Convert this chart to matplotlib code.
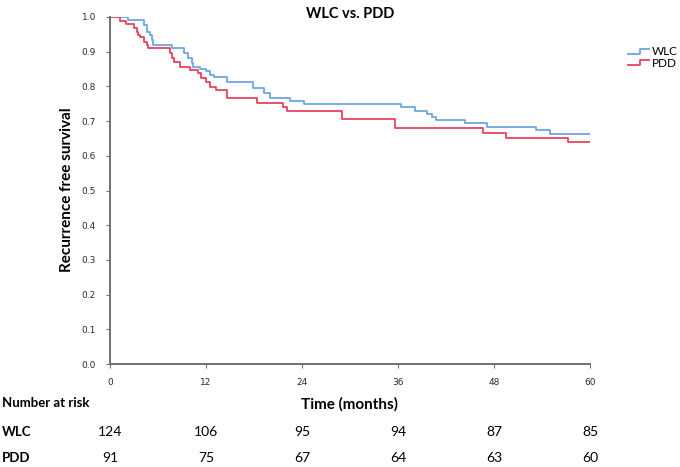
import matplotlib
matplotlib.use("Agg")
import matplotlib.pyplot as plt
from matplotlib.legend_handler import HandlerBase
from matplotlib.lines import Line2D

# ---- data ----
wlc_t = [0, 2.25, 4.2, 4.6, 5.0, 5.2, 5.4, 7.8, 9.2, 9.8, 10.2, 10.4, 11.2, 12.0, 12.5, 13.0,
         14.6, 17.9, 19.2, 20.0, 22.5, 24.2, 36.4, 38.1, 39.6, 40.2, 40.8, 44.4, 47.1, 53.3, 55.0, 60]
wlc_s = [1.0, 0.991, 0.977, 0.958, 0.949, 0.934, 0.920, 0.911, 0.896, 0.881, 0.867, 0.857, 0.851,
         0.843, 0.833, 0.826, 0.814, 0.795, 0.781, 0.766, 0.757, 0.748, 0.740, 0.730, 0.721,
         0.713, 0.702, 0.694, 0.683, 0.673, 0.662, 0.662]

pdd_t = [0, 1.2, 2.0, 3.0, 3.35, 3.55, 3.75, 4.2, 4.6, 4.8, 7.45, 7.7, 8.0, 8.8, 10.0, 11.0,
         11.4, 12.0, 12.5, 13.2, 14.6, 18.4, 21.6, 22.1, 29.0, 35.6, 46.6, 49.5, 57.3, 60]
pdd_s = [1.0, 0.989, 0.980, 0.968, 0.958, 0.949, 0.941, 0.929, 0.919, 0.910, 0.895, 0.881, 0.871,
         0.857, 0.848, 0.838, 0.824, 0.814, 0.798, 0.790, 0.766, 0.752, 0.742, 0.729, 0.706,
         0.680, 0.667, 0.652, 0.640, 0.640]

x_ticks = [0, 12, 24, 36, 48, 60]
y_ticks = [0.0, 0.1, 0.2, 0.3, 0.4, 0.5, 0.6, 0.7, 0.8, 0.9, 1.0]
groups = ["WLC", "PDD"]
at_risk_wlc = [124, 106, 95, 94, 87, 85]
at_risk_pdd = [91, 75, 67, 64, 63, 60]

BLUE = "#6fa6de"
RED = "#e8425e"
GRAY = "#707070"
FONT = "Lato"
W, H = 680, 467

fig = plt.figure(figsize=(6.8, 4.67), dpi=100)
ax = fig.add_axes([110/W, 1-364/H, 480/W, 347/H])

ax.step(wlc_t, wlc_s, where="post", color=BLUE, lw=1.3, label=groups[0])
ax.step(pdd_t, pdd_s, where="post", color=RED, lw=1.3, label=groups[1])

ax.set_xlim(0, 60)
ax.set_ylim(0, 1.0)
ax.set_xticks(x_ticks)
ax.set_xticklabels([str(v) for v in x_ticks])
ax.set_yticks(y_ticks)
ax.set_yticklabels([f"{v:.1f}" for v in y_ticks])
for s in ["top", "right"]:
    ax.spines[s].set_visible(False)
for s in ["left", "bottom"]:
    ax.spines[s].set_color(GRAY)
    ax.spines[s].set_linewidth(1.4)
ax.tick_params(axis="both", colors=GRAY, length=3, width=0.8, labelsize=6.5,
               labelcolor="#2a2a2a", pad=7)

fig.text(67/W, 1-190/H, "Recurrence free survival", rotation=90, ha="center", va="center",
         fontsize=11, fontweight="bold", family=FONT)
fig.text(350/W, 1-14/H, "WLC vs. PDD", ha="center", va="center",
         fontsize=10.5, fontweight="bold", family=FONT)


class StepHandler(HandlerBase):
    def create_artists(self, legend, orig_handle, xdescent, ydescent, width, height, fontsize, trans):
        x0, x1 = -xdescent, -xdescent + width
        xm = x0 + width * 0.55
        y0, y1 = -ydescent + height * 0.15, -ydescent + height * 0.75
        ln = Line2D([x0, xm, xm, x1], [y0, y0, y1, y1], color=orig_handle.get_color(),
                    lw=orig_handle.get_linewidth(), transform=trans)
        return [ln]


handles, labels = ax.get_legend_handles_labels()
leg = fig.legend(handles, labels, loc="upper left", bbox_to_anchor=(628/W, 1-46/H),
                 frameon=False, handler_map={Line2D: StepHandler()},
                 handlelength=1.8, handletextpad=0.2, labelspacing=0.05, borderpad=0,
                 borderaxespad=0, prop={"family": FONT, "size": 8.5})

# x label and at-risk table
fig.text(350/W, 1-404/H, "Time (months)", ha="center", va="center",
         fontsize=11, fontweight="bold", family=FONT)
fig.text(2/W, 1-403/H, "Number at risk", ha="left", va="center",
         fontsize=9.5, fontweight="bold", family=FONT)
rows = [(groups[0], at_risk_wlc, 432), (groups[1], at_risk_pdd, 458)]
for name, vals, ypx in rows:
    fig.text(2/W, 1-ypx/H, name, ha="left", va="center", fontsize=9.5, fontweight="bold", family=FONT)
    for t, v in zip(x_ticks, vals):
        xd = ax.transData.transform((t, 0))[0]
        fig.text(xd/W, 1-ypx/H, str(v), ha="center", va="center", fontsize=10, family=FONT)

fig.savefig("out.png", dpi=100)
